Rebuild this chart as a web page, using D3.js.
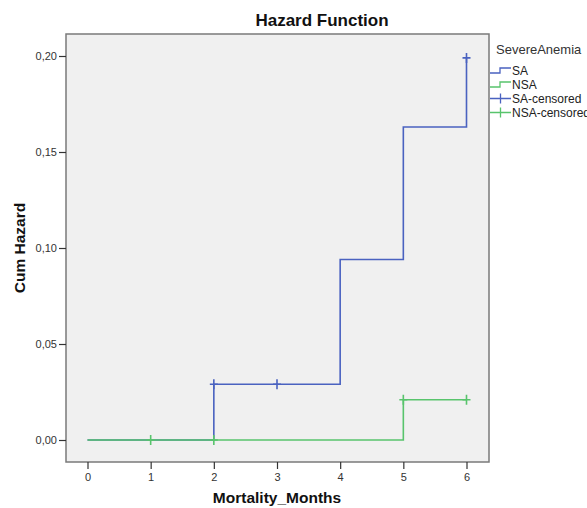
<!DOCTYPE html>
<html>
<head>
<meta charset="utf-8">
<script src="https://cdn.jsdelivr.net/npm/d3@7"></script>
<style>
    body { margin: 0; background: #fff; }
    text { font-family: Arial, "Liberation Sans", sans-serif; }
</style>
</head>
<body>
<div id="chart"></div>
<script>
const SERIES_NAMES = ['SA', 'NSA'];
const SERIES_COLORS = ['#4a62c0', '#58c46c'];

const saTimes = [0, 2, 4, 5, 6];
const saHazard = [0, 0.029, 0.094, 0.163, 0.199];
const nsaTimes = [0, 5, 6];
const nsaHazard = [0, 0.021, 0.021];

const saCensoredTimes = [2, 3, 6];
const saCensoredHazard = [0.029, 0.029, 0.199];
const nsaCensoredTimes = [1, 2, 5, 6];
const nsaCensoredHazard = [0, 0, 0.021, 0.021];

const xTicks = [0, 1, 2, 3, 4, 5, 6];
const yTicks = [0, 0.05, 0.10, 0.15, 0.20];

const W = 587, H = 508;
const frame = { left: 66, right: 489, top: 34, bottom: 462 };

const svg = d3.select('#chart').append('svg')
    .attr('width', W)
    .attr('height', H);

const x = d3.scaleLinear().domain([0, 6]).range([87.5, 466.5]);
const y = d3.scaleLinear().domain([0, 0.2]).range([440, 56]);

// plot background + frame
svg.append('rect')
    .attr('x', frame.left)
    .attr('y', frame.top)
    .attr('width', frame.right - frame.left)
    .attr('height', frame.bottom - frame.top)
    .attr('fill', '#f0f0f0')
    .attr('stroke', '#7a7a7a')
    .attr('stroke-width', 1.5);

// axes
const xAxis = svg.append('g')
    .attr('transform', `translate(0,${frame.bottom})`)
    .call(d3.axisBottom(x).tickValues(xTicks).tickSize(7).tickSizeOuter(0).tickFormat(d3.format('d')));
xAxis.select('.domain').remove();

const yAxis = svg.append('g')
    .attr('transform', `translate(${frame.left},0)`)
    .call(d3.axisLeft(y).tickValues(yTicks).tickSize(7).tickSizeOuter(0)
        .tickFormat(d => d3.format('.2f')(d).replace('.', ',')));
yAxis.select('.domain').remove();

svg.selectAll('.tick line').attr('stroke', '#333').attr('stroke-width', 1.2);
svg.selectAll('.tick text').attr('fill', '#333').style('font-size', '11px');
yAxis.selectAll('.tick text').attr('x', -9);
xAxis.selectAll('.tick text').attr('y', 11);

// titles
svg.append('text')
    .attr('x', 322).attr('y', 26)
    .attr('text-anchor', 'middle')
    .style('font-size', '17px').style('font-weight', 'bold')
    .attr('fill', '#111')
    .text('Hazard Function');

svg.append('text')
    .attr('x', 277).attr('y', 503)
    .attr('text-anchor', 'middle')
    .style('font-size', '15.5px').style('font-weight', 'bold')
    .attr('fill', '#111')
    .text('Mortality_Months');

svg.append('text')
    .attr('transform', `translate(25,${(frame.top + frame.bottom) / 2}) rotate(-90)`)
    .attr('text-anchor', 'middle')
    .style('font-size', '15.5px').style('font-weight', 'bold')
    .attr('fill', '#111')
    .text('Cum Hazard');

// step lines
const stepLine = d3.line()
    .x(d => x(d[0]))
    .y(d => y(d[1]))
    .curve(d3.curveStepAfter);

const seriesData = [
    d3.zip(saTimes, saHazard),
    d3.zip(nsaTimes, nsaHazard)
];

svg.selectAll('.step')
    .data(seriesData)
    .enter()
    .append('path')
    .attr('class', 'step')
    .attr('d', stepLine)
    .attr('fill', 'none')
    .attr('stroke', (d, i) => SERIES_COLORS[i])
    .attr('stroke-width', 1.6);

// censored marks
const censoredData = [
    d3.zip(saCensoredTimes, saCensoredHazard),
    d3.zip(nsaCensoredTimes, nsaCensoredHazard)
];

function cross(g, cx, cy, color) {
    g.append('path')
        .attr('d', `M${cx - 4},${cy}H${cx + 4}M${cx},${cy - 5}V${cy + 5}`)
        .attr('stroke', color)
        .attr('stroke-width', 1.6)
        .attr('fill', 'none');
}

censoredData.forEach((pts, i) => {
    const g = svg.append('g');
    pts.forEach(p => cross(g, x(p[0]), y(p[1]), SERIES_COLORS[i]));
});

// legend
const lg = svg.append('g');
lg.append('text')
    .attr('x', 496).attr('y', 54)
    .attr('fill', '#333')
    .style('font-size', '13px')
    .text('SevereAnemia');

const legendItems = [
    { label: 'SA', color: SERIES_COLORS[0], type: 'step' },
    { label: 'NSA', color: SERIES_COLORS[1], type: 'step' },
    { label: 'SA-censored', color: SERIES_COLORS[0], type: 'cross' },
    { label: 'NSA-censored', color: SERIES_COLORS[1], type: 'cross' }
];

legendItems.forEach((item, i) => {
    const cy = 70.5 + i * 14;
    if (item.type === 'step') {
        lg.append('path')
            .attr('d', `M490,${cy + 2.5}H500V${cy - 2.5}H511`)
            .attr('fill', 'none')
            .attr('stroke', item.color)
            .attr('stroke-width', 1.3);
    } else {
        lg.append('path')
            .attr('d', `M490,${cy}H511M500.5,${cy - 5}V${cy + 5}`)
            .attr('fill', 'none')
            .attr('stroke', item.color)
            .attr('stroke-width', 1.3);
    }
    lg.append('text')
        .attr('x', 512).attr('y', cy + 4)
        .attr('fill', '#222')
        .style('font-size', '12px')
        .text(item.label);
});
</script>
</body>
</html>
